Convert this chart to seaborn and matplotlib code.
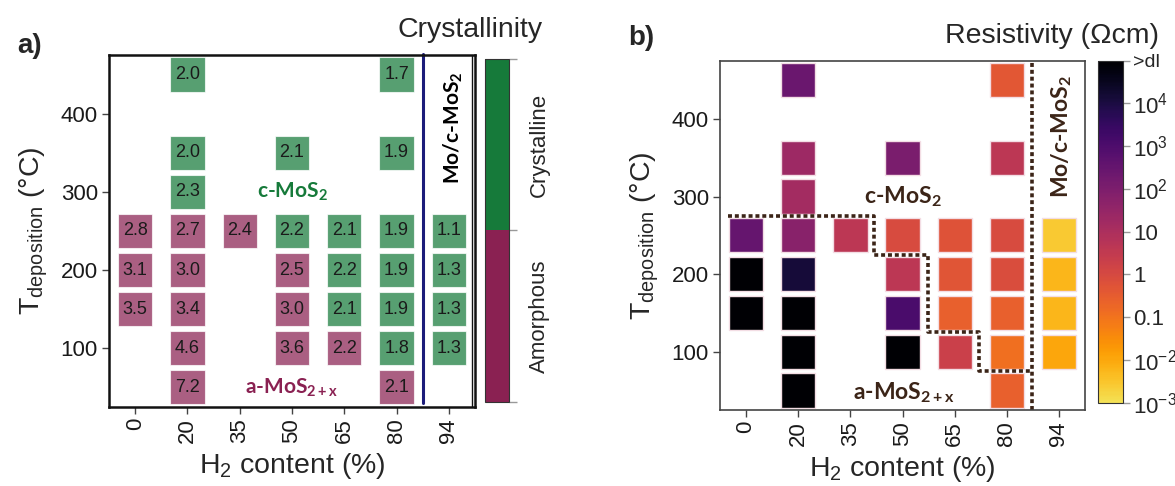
import numpy as np
import pandas as pd
import matplotlib
matplotlib.use("Agg")
import matplotlib.pyplot as plt
import seaborn as sns
from matplotlib.colors import ListedColormap, LogNorm, BoundaryNorm
from matplotlib.cm import ScalarMappable

# Data
h2_levels = [0, 20, 35, 50, 65, 80, 94]

h2_content = [0, 0, 0,
              20, 20, 20, 20, 20, 20, 20, 20,
              35,
              50, 50, 50, 50, 50,
              65, 65, 65, 65,
              80, 80, 80, 80, 80, 80, 80,
              94, 94, 94, 94]
t_dep = [250, 200, 150,
         450, 350, 300, 250, 200, 150, 100, 50,
         250,
         350, 250, 200, 150, 100,
         250, 200, 150, 100,
         450, 350, 250, 200, 150, 100, 50,
         250, 200, 150, 100]
s_mo_ratio = [2.8, 3.1, 3.5,
              2.0, 2.0, 2.3, 2.7, 3.0, 3.4, 4.6, 7.2,
              2.4,
              2.1, 2.2, 2.5, 3.0, 3.6,
              2.1, 2.2, 2.1, 2.2,
              1.7, 1.9, 1.9, 1.9, 1.9, 1.8, 2.1,
              1.1, 1.3, 1.3, 1.3]
phase_code = ["A", "A", "A",
              "C", "C", "C", "A", "A", "A", "A", "A",
              "A",
              "C", "C", "A", "A", "A",
              "C", "C", "C", "A",
              "C", "C", "C", "C", "C", "C", "A",
              "C", "C", "C", "C"]
# resistivity in Ohm cm, None = above detection limit (>dl)
resistivity = [3.0e2, None, None,
               2.5e2, 22, 15, 60, 1.3e4, None, None, None,
               4.5,
               1.1e2, 0.9, 4.5, 1.2e3, None,
               0.6, 0.5, 0.27, 2.0,
               0.4, 4.5, 0.9, 0.75, 0.27, 0.12, 0.27,
               2.7e-3, 6e-3, 6e-3, 1.1e-2]
above_dl = 1e5

# phase boundary in panel b
boundary_x = [-0.35, 2.45, 2.45, 3.48, 3.48, 4.47, 4.47, 5.475]
boundary_t = [275, 275, 225, 225, 125, 125, 75, 75]

cbar_ticks = [1e-3, 1e-2, 1e-1, 1, 10, 1e2, 1e3, 1e4, 1e5]
cbar_labels = ["10$^{-3}$", "10$^{-2}$", "0.1", "1", "10",
               "10$^{2}$", "10$^{3}$", "10$^{4}$", ">dl"]

df = pd.DataFrame({
    "h2": h2_content,
    "T": t_dep,
    "ratio": s_mo_ratio,
    "phase": ["Crystalline" if p == "C" else "Amorphous" for p in phase_code],
    "rho": [above_dl if r is None else r for r in resistivity],
})
df["xpos"] = df["h2"].map({v: i for i, v in enumerate(h2_levels)})

# Style
sns.set_style("ticks")
plt.rcParams["font.family"] = ["Liberation Sans", "DejaVu Sans"]
plt.rcParams["mathtext.fontset"] = "custom"
plt.rcParams["mathtext.rm"] = "Liberation Sans"
plt.rcParams["mathtext.it"] = "Liberation Sans:italic"
plt.rcParams["mathtext.bf"] = "Lato:bold"

green = "#167a3a"
purple = "#8a2152"
brown = "#3b2417"
cmap = ListedColormap(plt.cm.inferno(np.linspace(0.92, 0.0, 256)))
norm = LogNorm(1e-3, 1e5)

fig = plt.figure(figsize=(11.75, 4.86), dpi=100)
ax_a = fig.add_axes([0.0928, 0.163, 0.3115, 0.7237])
cax_a = fig.add_axes([0.4128, 0.1735, 0.0207, 0.7051])
ax_b = fig.add_axes([0.6128, 0.1564, 0.3106, 0.7187])
cax_b = fig.add_axes([0.9347, 0.1714, 0.0213, 0.7037])

# Panel a: crystallinity
sns.scatterplot(data=df, x="xpos", y="T", hue="phase",
                palette={"Crystalline": green, "Amorphous": purple},
                marker="s", s=610, alpha=0.72, edgecolor="white",
                linewidth=0.8, legend=False, ax=ax_a)
for _, r in df.iterrows():
    ax_a.text(r["xpos"], r["T"], f"{r['ratio']:.1f}", ha="center",
              va="center", fontsize=13, color="#1a1a1a")

ax_a.plot([5.5, 5.5], [30, 477], color="#1c1c7a", lw=2.2, clip_on=False)
ax_a.axvline(6.45, color="#111111", lw=1)
ax_a.text(3, 300, "c-MoS$_\\mathbf{2}$", color=green, fontsize=15,
          fontweight="bold", family="Lato", ha="center", va="center")
ax_a.text(3, 49, "a-MoS$_\\mathbf{2+x}$", color=purple, fontsize=15,
          fontweight="bold", family="Lato", ha="center", va="center")
ax_a.text(6.09, 382, "Mo/c-MoS$_\\mathbf{2}$", color="black", fontsize=15,
          fontweight="bold", family="Lato", ha="center", va="center",
          rotation=90)
for sp in ax_a.spines.values():
    sp.set_color("#111111")
    sp.set_linewidth(1.8)

# Panel b: resistivity
sns.scatterplot(data=df, x="xpos", y="T", hue="rho", palette=cmap,
                hue_norm=norm, marker="s", s=610, edgecolor="#f3dde4",
                linewidth=1.0, legend=False, ax=ax_b)
ax_b.plot(boundary_x, boundary_t, color=brown, lw=2.6,
          linestyle=(0, (1.1, 0.8)))
ax_b.plot([5.475, 5.475], [25, 475], color=brown, lw=2.6,
          linestyle=(0, (1.1, 0.8)))
ax_b.text(3, 300, "c-MoS$_\\mathbf{2}$", color=brown, fontsize=16.5,
          fontweight="bold", family="Lato", ha="center", va="center")
ax_b.text(3.02, 48, "a-MoS$_\\mathbf{2+x}$", color=brown, fontsize=16.5,
          fontweight="bold", family="Lato", ha="center", va="center")
ax_b.text(6.05, 378, "Mo/c-MoS$_\\mathbf{2}$", color=brown, fontsize=16.5,
          fontweight="bold", family="Lato", ha="center", va="center",
          rotation=90)
for sp in ax_b.spines.values():
    sp.set_color("#444444")
    sp.set_linewidth(1.2)

for ax in (ax_a, ax_b):
    ax.set_xlim(-0.5, 6.5)
    ax.set_ylim(25, 475)
    ax.set_xticks(range(len(h2_levels)))
    ax.set_xticklabels([str(v) for v in h2_levels], rotation=90)
    ax.set_yticks([100, 200, 300, 400])
    ax.tick_params(labelsize=16, length=5, width=1, color="#444444",
                   labelcolor="#1a1a1a", pad=3)
    ax.set_xlabel("H$_2$ content (%)", fontsize=20.5, labelpad=6)
    ax.set_ylabel("T$_{\\mathrm{deposition}}$ (°C)", fontsize=20.5,
                  labelpad=8)

# Colorbar a
cb_a = fig.colorbar(ScalarMappable(norm=BoundaryNorm([0, 1, 2], 2),
                                   cmap=ListedColormap([purple, green])),
                    cax=cax_a)
cb_a.set_ticks([0.5, 1.5])
cb_a.set_ticklabels(["Amorphous", "Crystalline"])
cax_a.set_yticks([0, 1, 2], minor=True)
cax_a.tick_params(which="major", length=0, pad=14, labelsize=16)
cax_a.tick_params(which="minor", length=6, width=1, color="#999999")
for lab in cax_a.get_yticklabels():
    lab.set_rotation(90)
    lab.set_va("center")
cb_a.outline.set_linewidth(0.8)
cb_a.outline.set_edgecolor("#333333")

# Colorbar b
cb_b = fig.colorbar(ScalarMappable(norm=norm, cmap=cmap), cax=cax_b)
cb_b.set_ticks(cbar_ticks)
cb_b.set_ticklabels(cbar_labels)
cax_b.minorticks_off()
cax_b.tick_params(length=5, width=1, color="#999999", labelsize=16, pad=2)
cax_b.get_yticklabels()[-1].set_fontsize(14)
cb_b.outline.set_linewidth(0.8)
cb_b.outline.set_edgecolor("#333333")

# Titles and panel letters
fig.text(0.462, 0.938, "Crystallinity", fontsize=20.5, ha="right",
         va="center")
fig.text(0.986, 0.925, "Resistivity (Ωcm)", fontsize=20.5, ha="right",
         va="center")
fig.text(0.015, 0.905, "a)", fontsize=20, fontweight="bold", va="center")
fig.text(0.535, 0.922, "b)", fontsize=20, fontweight="bold", va="center")

fig.savefig("out.png", dpi=100)
